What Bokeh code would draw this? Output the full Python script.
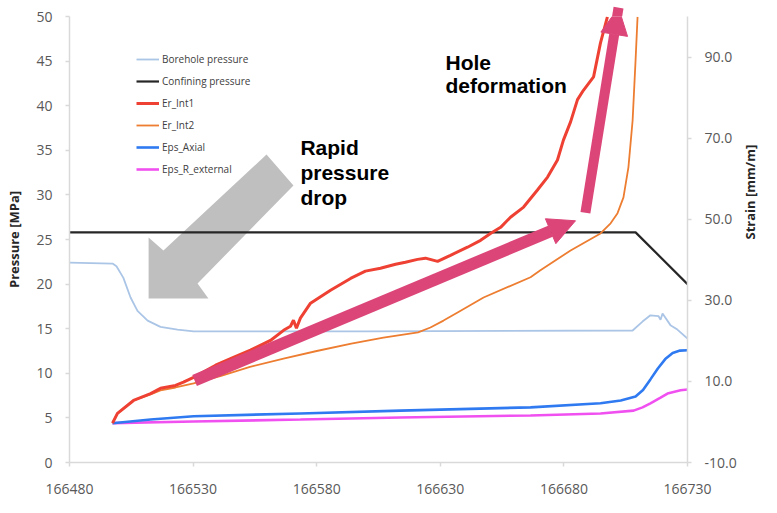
import math
from bokeh.plotting import figure
from bokeh.models import (Range1d, LinearAxis, FixedTicker, NumeralTickFormatter,
                          Arrow, NormalHead, Label, Legend, LegendItem)
from bokeh.embed import file_html
from bokeh.resources import INLINE

# ---------------- data ----------------
x_ticks = [166480, 166530, 166580, 166630, 166680, 166730]
p_ticks = [0, 5, 10, 15, 20, 25, 30, 35, 40, 45, 50]
s_ticks = [-10, 10, 30, 50, 70, 90]

t_borehole = [166480, 166497.4, 166499.0, 166501.8, 166504.7, 166507.5, 166511.6, 166516.8,
              166523.7, 166530.2, 166600.0, 166707.8, 166711.8, 166715.0, 166718.3, 166719.1,
              166719.9, 166723.1, 166725.9, 166730]
p_borehole = [22.4, 22.3, 22.0, 20.7, 18.5, 17.0, 15.9, 15.2,
              14.9, 14.7, 14.7, 14.8, 15.8, 16.5, 16.4, 16.0,
              16.7, 15.4, 14.9, 13.9]

t_confining = [166480, 166709, 166730]
p_confining = [25.8, 25.8, 20.0]

t_er1 = [166497.4, 166499.4, 166505.9, 166512.8, 166516.8, 166522.9, 166526.1, 166530.2,
         166539.1, 166546.3, 166553.2, 166561.3, 166566.6, 166569.4, 166570.6, 166571.8,
         166573.4, 166577.5, 166585.6, 166593.7, 166599.7, 166605.8, 166611.9, 166615.9,
         166620.8, 166624.0, 166628.9, 166634.1, 166641.0, 166646.3, 166650.3, 166654.4,
         166658.4, 166663.7, 166669.3, 166673.4, 166677.4, 166679.8, 166682.7, 166685.5,
         166687.9, 166692.0, 166694.8, 166697.6]
s_er1 = [-0.3, 2.1, 5.3, 7.0, 8.3, 9.0, 9.8, 11.0,
         14.0, 15.9, 17.7, 20.1, 22.6, 23.6, 25.1, 23.1,
         25.6, 29.3, 32.5, 35.4, 37.2, 37.9, 38.9, 39.4,
         40.1, 40.4, 39.6, 41.1, 43.1, 44.8, 46.5, 48.0,
         50.5, 53.0, 57.2, 60.4, 64.6, 69.5, 74.0, 79.5,
         81.8, 85.1, 93.5, 99.9]

t_er2 = [166497.4, 166499.4, 166505.9, 166512.8, 166516.8, 166522.9, 166530.2, 166541.0,
         166553.0, 166567.0, 166580.0, 166594.0, 166607.0, 166621.0, 166626.0, 166631.3,
         166637.0, 166647.5, 166666.5, 166670.5, 166682.7, 166694.8, 166698.9, 166701.7,
         166704.1, 166706.1, 166707.8, 166709.0, 166709.8]
s_er2 = [-0.3, 2.1, 5.3, 6.8, 7.8, 8.5, 9.5, 11.3,
         13.6, 15.7, 17.5, 19.3, 20.8, 22.1, 23.3, 25.0,
         27.0, 30.7, 35.7, 37.4, 42.3, 46.5, 49.0, 51.5,
         55.4, 62.8, 74.4, 89.3, 99.9]

t_axial = [166497.4, 166512.8, 166530.2, 166573.4, 166613.9, 166666.5, 166694.8, 166703.0,
           166709.0, 166712.0, 166715.0, 166718.0, 166721.0, 166724.0, 166727.0, 166730]
s_axial = [-0.3, 0.6, 1.4, 2.1, 2.8, 3.6, 4.6, 5.3,
           6.3, 7.9, 10.5, 13.2, 15.5, 17.0, 17.6, 17.7]

t_rext = [166497.4, 166530.2, 166573.4, 166613.9, 166666.5, 166694.8, 166708.2, 166711.8,
          166715.0, 166719.1, 166721.9, 166727.2, 166730]
s_rext = [-0.3, 0.1, 0.6, 1.1, 1.6, 2.1, 2.8, 3.6,
          4.6, 6.0, 7.0, 7.8, 8.0]

# ---------------- styles ----------------
PINK = "#dc4577"
GRAY_ARROW = "#bfbfbf"
AX_COLOR = "#d9d9d9"
TICK_TXT = "#595959"
LBL_TXT = "#262626"
FONT = "Open Sans"

p = figure(width=775, height=511, output_backend="svg", toolbar_location=None,
           x_range=Range1d(166480, 166730), y_range=Range1d(0, 50),
           min_border_left=69, min_border_right=88, min_border_top=16, min_border_bottom=49)
p.extra_y_ranges = {"strain": Range1d(-10, 100)}
p.xgrid.visible = False
p.ygrid.visible = False
p.outline_line_color = None
p.background_fill_color = "white"
p.border_fill_color = "white"


def style_axis(ax):
    ax.axis_line_color = AX_COLOR
    ax.axis_line_width = 1.5
    ax.major_tick_line_color = AX_COLOR
    ax.major_tick_line_width = 1.5
    ax.major_tick_in = 0
    ax.major_tick_out = 4
    ax.minor_tick_line_color = None
    ax.major_label_text_font = FONT
    ax.major_label_text_font_size = "14px"
    ax.major_label_text_color = TICK_TXT
    ax.axis_label_text_font = FONT
    ax.axis_label_text_font_size = "13px"
    ax.axis_label_text_font_style = "bold"
    ax.axis_label_text_color = LBL_TXT


xa = p.xaxis[0]
style_axis(xa)
xa.ticker = FixedTicker(ticks=x_ticks)
xa.formatter = NumeralTickFormatter(format="0")
xa.major_label_standoff = 17

ya = p.yaxis[0]
style_axis(ya)
ya.ticker = FixedTicker(ticks=p_ticks)
ya.axis_label = "Pressure [MPa]"
ya.major_label_standoff = 13
ya.axis_label_standoff = 10

ra = LinearAxis(y_range_name="strain", ticker=FixedTicker(ticks=s_ticks),
                formatter=NumeralTickFormatter(format="0.0"), axis_label="Strain [mm/m]")
style_axis(ra)
ra.major_label_standoff = 13
ra.axis_label_standoff = 10
try:
    ra.axis_label_orientation = math.pi / 2
except Exception:
    pass
p.add_layout(ra, "right")

# gray block arrow ("Rapid pressure drop")
gray_x = [166512.0, 166512.0, 166518.0, 166559.7, 166570.6, 166531.8, 166536.2]
gray_y = [18.39, 25.22, 23.77, 34.53, 31.05, 20.07, 18.39]
p.patch(gray_x, gray_y, fill_color=GRAY_ARROW, line_color=None)

r_bore = p.line(t_borehole, p_borehole, line_color="#abc5e6", line_width=1.8)
r_conf = p.line(t_confining, p_confining, line_color="#262626", line_width=2.2)
r_rext = p.line(t_rext, s_rext, y_range_name="strain", line_color="#f050f0", line_width=2.6)
r_ax = p.line(t_axial, s_axial, y_range_name="strain", line_color="#2f7af0", line_width=2.6)
r_er2 = p.line(t_er2, s_er2, y_range_name="strain", line_color="#ed7d31", line_width=1.8)
r_er1 = p.line(t_er1, s_er1, y_range_name="strain", line_color="#ee4133", line_width=3.0)

legend = Legend(items=[
    LegendItem(label="Borehole pressure", renderers=[r_bore]),
    LegendItem(label="Confining pressure", renderers=[r_conf]),
    LegendItem(label="Er_Int1", renderers=[r_er1]),
    LegendItem(label="Er_Int2", renderers=[r_er2]),
    LegendItem(label="Eps_Axial", renderers=[r_ax]),
    LegendItem(label="Eps_R_external", renderers=[r_rext]),
], location=(67, 282))
legend.border_line_color = None
legend.background_fill_alpha = 0
legend.padding = 0
legend.margin = 0
legend.spacing = 0
legend.glyph_width = 23
legend.glyph_height = 22
legend.label_height = 22
legend.label_standoff = 3
legend.label_text_font = FONT
legend.label_text_font_size = "10px"
legend.label_text_color = "#404040"
p.add_layout(legend, "center")

# pink arrows
p.add_layout(Arrow(end=NormalHead(size=27, fill_color=PINK, line_color=PINK, line_width=1),
                   x_start=166530.6, y_start=9.19, x_end=166684.7, y_end=27.1,
                   line_color=PINK, line_width=12))
p.add_layout(Arrow(end=NormalHead(size=27, fill_color=PINK, line_color=PINK, line_width=1),
                   x_start=166688.7, y_start=28.0, x_end=166702.1, y_end=51.0,
                   line_color=PINK, line_width=10))

# text annotations
for txt, xx, yy in [("Hole", 166632.1, 44.84), ("deformation", 166632.1, 42.26),
                    ("Rapid", 166573.4, 35.31), ("pressure", 166573.4, 32.5),
                    ("drop", 166573.4, 29.7)]:
    p.add_layout(Label(x=xx, y=yy, text=txt, text_font="Liberation Sans",
                       text_font_size="21px", text_font_style="bold",
                       text_color="black", text_baseline="alphabetic"))

# x axis title placed as a label
p.add_layout(Label(x=166605.0, y=-4.35, text="Time [sec]", text_font=FONT,
                   text_font_size="13px", text_font_style="bold", text_color=LBL_TXT,
                   text_align="center", text_baseline="middle"))

open("out.html", "w").write(file_html(p, INLINE))
